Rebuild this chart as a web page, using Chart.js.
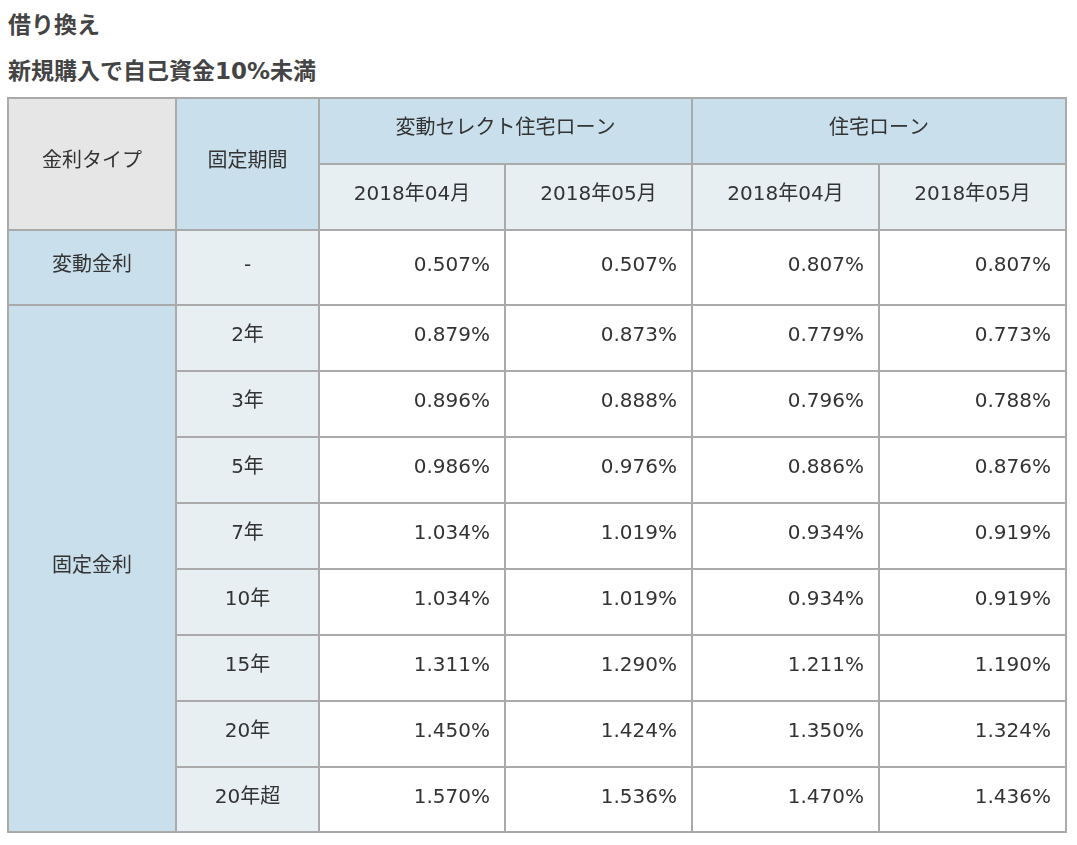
<!DOCTYPE html>
<html><head><meta charset="utf-8">
<script src="https://cdn.jsdelivr.net/npm/chart.js@4"></script>
<style>
body{margin:0;background:#fff;font-family:"DejaVu Sans","Noto Sans CJK JP",sans-serif;}
h3{margin:0;position:absolute;left:8px;font-size:23px;font-weight:bold;color:#444;}
#wrap{position:absolute;left:7px;top:97px;width:1060px;height:736px;}
</style></head>
<body>
<h3 style="top:6px">借り換え</h3>
<h3 style="top:52px">新規購入で自己資金10%未満</h3>
<div id="wrap"><canvas id="c"></canvas></div>
<script>
'use strict';
const products=['変動セレクト住宅ローン','住宅ローン'];
const months=['2018年04月','2018年05月'];
const periods=['-','2年','3年','5年','7年','10年','15年','20年','20年超'];
const selectApr=[0.507,0.879,0.896,0.986,1.034,1.034,1.311,1.450,1.570];
const selectMay=[0.507,0.873,0.888,0.976,1.019,1.019,1.290,1.424,1.536];
const loanApr=[0.807,0.779,0.796,0.886,0.934,0.934,1.211,1.350,1.470];
const loanMay=[0.807,0.773,0.788,0.876,0.919,0.919,1.190,1.324,1.436];

// layout
const colW=[168,143,186,187,187,187];
const rowH=[66,66,75,66,66,66,66,66,66,66,65];
const cum=a=>a.reduce((r,v)=>{r.push(r[r.length-1]+v);return r;},[0]);
const colE=cum(colW), rowE=cum(rowH);
const blue='#c9dfec', light='#e7eff2', gray='#e6e6e6';

let cells=[];
cells.push({c0:0,c1:1,r0:0,r1:2,t:'金利タイプ',bg:gray});
cells.push({c0:1,c1:2,r0:0,r1:2,t:'固定期間',bg:blue});
products.forEach((p,i)=>{
  cells.push({c0:2+i*2,c1:4+i*2,r0:0,r1:1,t:p,bg:blue});
  months.forEach((m,j)=>cells.push({c0:2+i*2+j,c1:3+i*2+j,r0:1,r1:2,t:m,bg:light}));
});
cells.push({c0:0,c1:1,r0:2,r1:3,t:'変動金利',bg:blue});
cells.push({c0:0,c1:1,r0:3,r1:11,t:'固定金利',bg:blue});
const series=[selectApr,selectMay,loanApr,loanMay];
periods.forEach((p,i)=>{
  cells.push({c0:1,c1:2,r0:2+i,r1:3+i,t:p,bg:light});
  series.forEach((s,j)=>cells.push({c0:2+j,c1:3+j,r0:2+i,r1:3+i,t:s[i].toFixed(3)+'%',bg:'#fff',right:true}));
});

const tablePlugin={id:'table',afterDraw(chart){
  const ctx=chart.ctx,x=chart.scales.x,y=chart.scales.y;
  ctx.save();
  ctx.font='20px "DejaVu Sans", "Noto Sans CJK JP", sans-serif';
  ctx.textBaseline='middle';
  cells.forEach(c=>{
    const x0=x.getPixelForValue(colE[c.c0]),x1=x.getPixelForValue(colE[c.c1]);
    const y0=y.getPixelForValue(rowE[c.r0]),y1=y.getPixelForValue(rowE[c.r1]);
    ctx.fillStyle=c.bg;ctx.fillRect(x0,y0,x1-x0,y1-y0);
    ctx.strokeStyle='#aaa';ctx.lineWidth=2;ctx.strokeRect(x0,y0,x1-x0,y1-y0);
    ctx.fillStyle='#333';
    const ym=(y0+y1)/2-2;
    if(c.right){ctx.textAlign='right';ctx.fillText(c.t,x1-15,ym);}
    else{ctx.textAlign='center';ctx.fillText(c.t,(x0+x1)/2,ym);}
  });
  ctx.restore();
}};

new Chart(document.getElementById('c'),{
  type:'scatter',
  data:{datasets:[{data:[]}]},
  options:{responsive:true,maintainAspectRatio:false,animation:false,
    layout:{padding:1},
    plugins:{legend:{display:false},tooltip:{enabled:false}},
    scales:{x:{type:'linear',min:0,max:colE[colE.length-1],display:false},
            y:{type:'linear',min:0,max:rowE[rowE.length-1],reverse:true,display:false}}},
  plugins:[tablePlugin]
});
</script>
</body></html>
